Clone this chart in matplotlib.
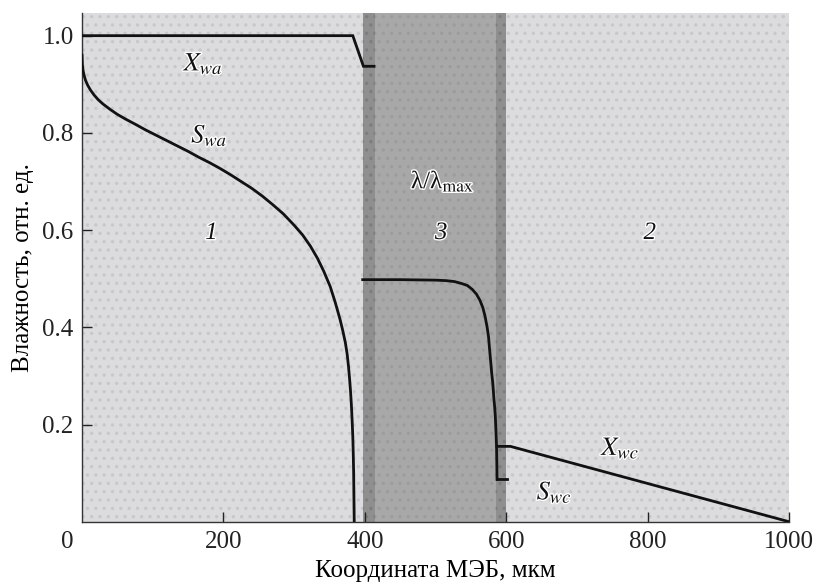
import matplotlib
matplotlib.use("Agg")
import matplotlib.pyplot as plt
import matplotlib.transforms as mtransforms
import matplotlib.patheffects as pe

plt.rcParams['font.family'] = ['Liberation Serif', 'DejaVu Serif']
plt.rcParams['mathtext.fontset'] = 'stix'
plt.rcParams['hatch.linewidth'] = 1.2

# ---- data ----
xwa_x = [0, 383, 398, 413]
xwa_y = [1.0, 1.0, 0.937, 0.937]

swa_x = [0, 0.5, 1.5, 3, 5, 8, 12, 17, 23, 30, 40, 50, 62, 75, 90, 105, 120, 135,
         150, 165, 180, 195, 210, 225, 240, 255, 270, 285, 300, 312, 323, 333, 342,
         351, 358, 365, 369, 372.5, 375, 377, 378.5, 379.8, 381, 382, 383, 383.6,
         384.2, 384.6, 385]
swa_y = [0.96, 0.94, 0.928, 0.918, 0.908, 0.898, 0.888, 0.878, 0.868, 0.859, 0.848,
         0.838, 0.828, 0.818, 0.806, 0.795, 0.784, 0.773, 0.762, 0.75, 0.739, 0.727,
         0.714, 0.70, 0.686, 0.67, 0.652, 0.633, 0.61, 0.59, 0.567, 0.542, 0.515,
         0.484, 0.452, 0.416, 0.392, 0.368, 0.345, 0.318, 0.293, 0.268, 0.24, 0.21,
         0.175, 0.142, 0.10, 0.05, 0.0]

lam_x = [397, 450, 500, 515, 527, 537, 545, 552, 558, 563, 567, 570, 573, 575, 576.5,
         578, 579.5, 581, 582.5, 583.7, 584.6, 585.5, 586.3, 586.7, 587]
lam_y = [0.498, 0.498, 0.497, 0.496, 0.494, 0.49, 0.486, 0.478, 0.468, 0.455, 0.44,
         0.423, 0.40, 0.38, 0.354, 0.33, 0.305, 0.285, 0.255, 0.235, 0.216, 0.185,
         0.155, 0.12, 0.087]

swc_x = [587, 601]
swc_y = [0.087, 0.087]

xwc_x = [587, 606, 1000]
xwc_y = [0.155, 0.155, 0.0]

regions = [(0, 398, '#dcdcde', '#c8c8ca'),
           (398, 415, '#8f8f8f', '#7d7d7d'),
           (415, 585, '#a8a8a8', '#9c9c9c'),
           (585, 600, '#8f8f8f', '#7d7d7d'),
           (600, 1000, '#dcdcde', '#c8c8ca')]

xticks = [0, 200, 400, 600, 800, 1000]
yticks = [0.2, 0.4, 0.6, 0.8, 1.0]

fig = plt.figure(figsize=(8.13, 5.86), dpi=100)
ax = fig.add_axes([0.1009, 0.1097, 0.8696, 0.8676])

for x0, x1, fc, hc in regions:
    ax.axvspan(x0, x1, facecolor=fc, edgecolor=hc, hatch='..', linewidth=0, zorder=0)

lw = 2.0
for xs, ys in [(xwa_x, xwa_y), (swa_x, swa_y), (lam_x, lam_y), (swc_x, swc_y), (xwc_x, xwc_y)]:
    ax.plot(xs, ys, color='#111111', lw=lw, solid_joinstyle='miter', zorder=3)

ax.set_xlim(0, 1000)
ax.set_ylim(0, 1.046)
ax.set_xticks(xticks)
ax.set_xticklabels([str(v) for v in xticks])
ax.set_yticks(yticks)
ax.set_yticklabels([f'{v:.1f}' for v in yticks])
ax.tick_params(direction='in', length=7, width=1, colors='#222222', labelsize=18, pad=6)
ax.tick_params(axis='x', pad=7)
for side in ['top', 'right']:
    ax.spines[side].set_visible(False)
for side in ['left', 'bottom']:
    ax.spines[side].set_color('#333333')
    ax.spines[side].set_linewidth(1.0)
ax.xaxis.get_major_ticks()[0].tick1line.set_visible(False)
# shift "0" label to the left as in the reference
lbl0 = ax.get_xticklabels()[0]
lbl0.set_transform(lbl0.get_transform() + mtransforms.ScaledTranslation(-15/100, 0, fig.dpi_scale_trans))

ax.set_xlabel('Координата МЭБ, мкм', fontsize=18, labelpad=5)
ax.set_ylabel('Влажность, отн. ед.', fontsize=18, labelpad=6)

halo = [pe.withStroke(linewidth=2, foreground='white')]
def lab(x, y, s, **kw):
    ax.text(x, y, s, ha='center', va='center', color='#111111',
            path_effects=halo, zorder=4, **kw)

lab(172, 0.943, r'$X_{wa}$', fontsize=19)
lab(180, 0.795, r'$S_{wa}$', fontsize=19)
lab(183, 0.594, '1', fontsize=18, style='italic')
lab(508, 0.594, '3', fontsize=18, style='italic')
lab(803, 0.594, '2', fontsize=18, style='italic')
lab(510, 0.701, r'λ/λ$_{\mathrm{max}}$', fontsize=18)
lab(762, 0.152, r'$X_{wc}$', fontsize=19)
lab(668, 0.061, r'$S_{wc}$', fontsize=19)

fig.savefig('out.png', dpi=100)
